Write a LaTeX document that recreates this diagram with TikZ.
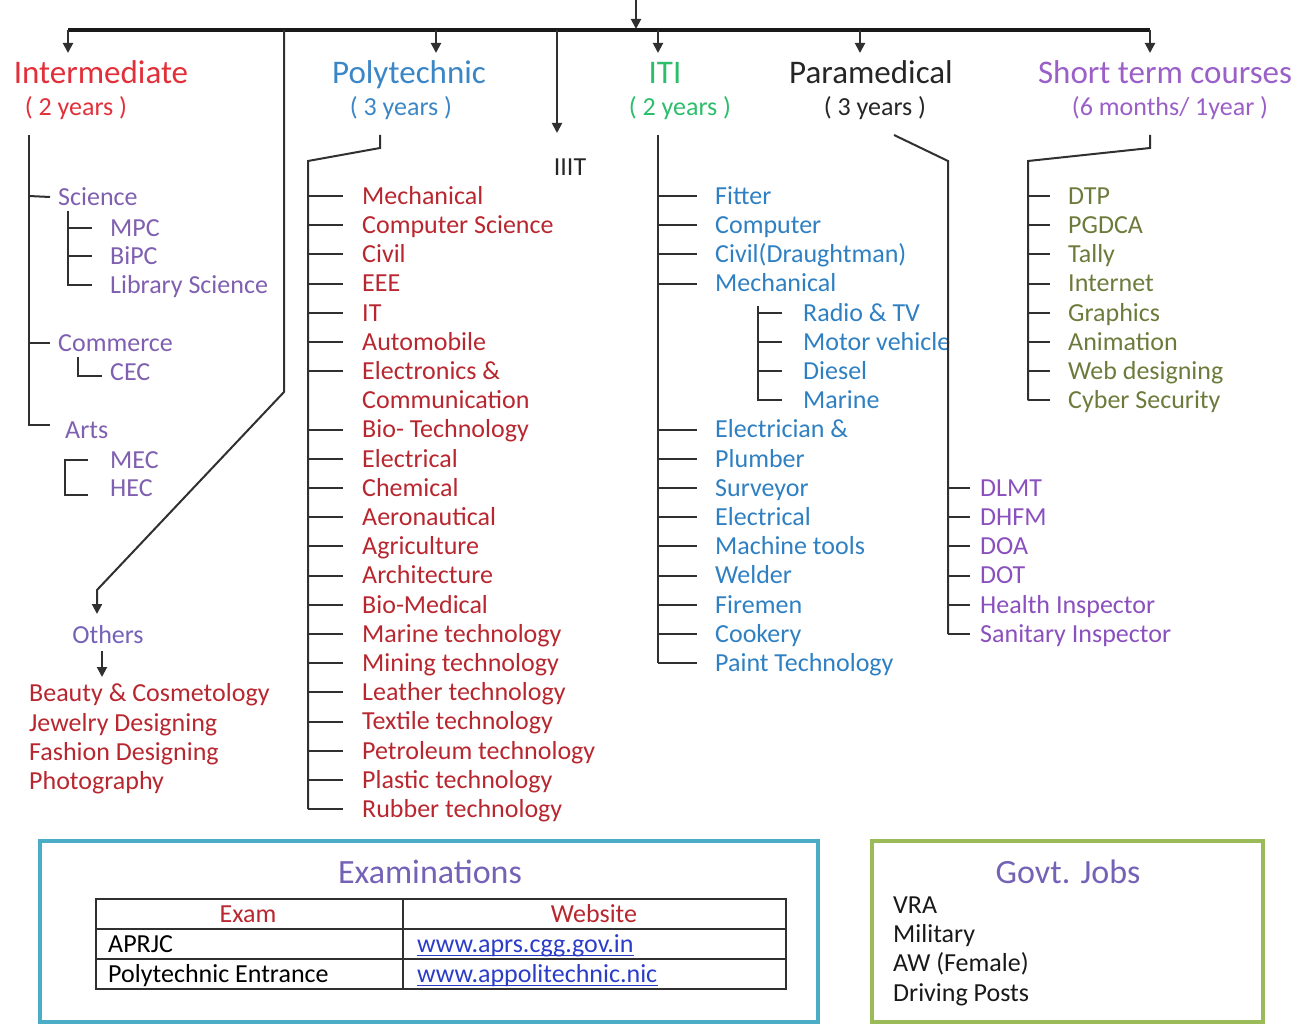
\documentclass[tikz,border=0pt]{standalone}
\usepackage{fontspec}
\setmainfont{Carlito}
\usetikzlibrary{arrows.meta,calc}
\definecolor{intred}{HTML}{E2303A}
\definecolor{dred}{HTML}{B8272F}
\definecolor{polyblue}{HTML}{3A86C6}
\definecolor{itigreen}{HTML}{2DBE6C}
\definecolor{itiblue}{HTML}{2F80C2}
\definecolor{subpurple}{HTML}{7F5FB0}
\definecolor{othpurple}{HTML}{7462B6}
\definecolor{parpurple}{HTML}{8A50BE}
\definecolor{stpurple}{HTML}{9B5FC8}
\definecolor{olive}{HTML}{6C7B3B}
\definecolor{teal}{HTML}{4AADC5}
\definecolor{jobgreen}{HTML}{9BBB59}
\definecolor{linkblue}{HTML}{2B3CC9}
\definecolor{linegray}{HTML}{303030}
\begin{document}
\begin{tikzpicture}[x=1pt,y=-1pt,
  ln/.style={draw=linegray, line width=2pt},
  bigln/.style={draw=black!90, line width=3.2pt},
  arr/.style={-{Triangle[length=10pt,width=10pt]}},
  itm/.style={anchor=west, inner sep=0pt, text height=20.8pt, text depth=4.2pt, font=\fontsize{26}{29}\selectfont},
  ttl/.style={inner sep=0pt, text height=26.4pt, text depth=6.6pt, font=\fontsize{33}{36}\selectfont},
  yrs/.style={inner sep=0pt, text height=20.8pt, text depth=4.2pt, font=\fontsize{26}{28}\selectfont},
  boxttl/.style={inner sep=0pt, text height=27.2pt, text depth=6.8pt, font=\fontsize{34}{36}\selectfont},
  uline/.style={draw=linkblue, line width=1.3pt},
]
\useasboundingbox (0,0) rectangle (1306,1027);

% ---------- top bar ----------
\coordinate (top) at (636,0);
\coordinate (hl) at (68,30);
\coordinate (hr) at (1150,30);
\coordinate (hmid) at (636,29);
\draw[bigln] (hl) -- (hr);
\draw[ln,arr] (top) -- (hmid);

% ---------- headers ----------
\node[ttl,text=intred] (inter) at (101,74) {Intermediate};
\node[yrs,text=intred] (interY) at (76,107) {( 2 years )};
\node[ttl,text=polyblue] (poly) at (409,74) {Polytechnic};
\node[yrs,text=polyblue] (polyY) at (401,107) {( 3 years )};
\node[ttl,text=itigreen] (iti) at (665,74) {ITI};
\node[yrs,text=itigreen] (itiY) at (680,107) {( 2 years )};
\node[ttl,text=black!85] (para) at (871,74) {Paramedical};
\node[yrs,text=black!85] (paraY) at (875,107) {( 3 years )};
\node[ttl,text=stpurple] (short) at (1165,74) {Short term courses};
\node[yrs,text=stpurple] (shortY) at (1170,107) {(6 months/ 1year )};

\coordinate (aI) at (68,53);
\coordinate (aP) at (436,53);
\coordinate (aT) at (658,53);
\coordinate (aM) at (860,53);
\coordinate (aS) at (1150,53);
\foreach \a/\b in {68/aI,436/aP,658/aT,860/aM,1150/aS}
  \draw[ln,arr] (\a,30) -- (\b);

% ---------- IIIT ----------
\node[itm,anchor=center,text=black!85] (iiit) at (570,167) {IIIT};
\coordinate (iiitTop) at (557,30);
\coordinate (iiitTip) at (557,133);
\draw[ln,arr] (iiitTop) -- (iiitTip);

% ---------- Others ----------
\coordinate (oTop) at (284,30);
\coordinate (oBend) at (284,392);
\coordinate (oDiag) at (97,590);
\coordinate (oTip) at (97,614);
\draw[ln,arr] (oTop) -- (oBend) -- (oDiag) -- (oTip);
\node[itm,anchor=center,text=othpurple] (others) at (108,635) {Others};
\coordinate (o2a) at (102,651);
\coordinate (o2b) at (102,677);
\draw[ln,arr] (o2a) -- (o2b);
\foreach \t/\y [count=\i] in {Beauty \& Cosmetology/693,Jewelry Designing/723,Fashion Designing/752,Photography/781}
  \node[itm,text=dred] (oth\i) at (29,\y) {\t};

% ---------- Intermediate tree ----------
\coordinate (iTop) at (29,135);
\coordinate (iBot) at (29,425);
\coordinate (iEnd) at (50,425);
\draw[ln] (iTop) -- (iBot) -- (iEnd);
\node[itm,text=subpurple] (sci) at (58,197) {Science};
\node[itm,text=subpurple] (com) at (58,343) {Commerce};
\node[itm,text=subpurple] (arts) at (65,430) {Arts};
\draw[ln] (29,196) -- ([xshift=-8pt]sci.west);
\draw[ln] (29,343) -- ([xshift=-8pt]com.west);
% science sub
\node[itm,text=subpurple] (mpc) at (110,228) {MPC};
\node[itm,text=subpurple] (bipc) at (110,256) {BiPC};
\node[itm,text=subpurple] (lib) at (110,285) {Library Science};
\coordinate (sTop) at (68,211);
\draw[ln] (sTop) -- (68,285) -- ([xshift=-18pt]lib.west);
\draw[ln] (68,228) -- ([xshift=-18pt]mpc.west);
\draw[ln] (68,256) -- ([xshift=-18pt]bipc.west);
% commerce sub
\node[itm,text=subpurple] (cec) at (110,372) {CEC};
\coordinate (cTop) at (78,357);
\coordinate (cEnd) at (102,376);
\draw[ln] (cTop) -- (78,376) -- (cEnd);
% arts sub
\node[itm,text=subpurple] (mec) at (110,460) {MEC};
\node[itm,text=subpurple] (hec) at (110,488) {HEC};
\coordinate (aTop) at (88,460);
\coordinate (aBot) at (88,495);
\draw[ln] (aTop) -- (65,460) -- (65,495) -- (aBot);

% ---------- Polytechnic tree ----------
\coordinate (pA) at (380,135);
\coordinate (pB) at (380,148);
\coordinate (pC) at (308,161);
\coordinate (pD) at (308,809);
\draw[ln] (pA) -- (pB) -- (pC) -- (pD);
\foreach \t [count=\i] in {Mechanical,Computer Science,Civil,EEE,IT,Automobile,Electronics \&,Communication,Bio- Technology,Electrical,Chemical,Aeronautical,Agriculture,Architecture,Bio-Medical,Marine technology,Mining technology,Leather technology,Textile technology,Petroleum technology,Plastic technology,Rubber technology}{
  \pgfmathsetmacro\yy{196+29.2*(\i-1)}
  \node[itm,text=dred] (p\i) at (362,\yy) {\t};
  \ifnum\i=8\else \draw[ln] (308,\yy) -- ([xshift=-19pt]p\i.west);\fi
}

% ---------- ITI tree ----------
\coordinate (tA) at (658,135);
\coordinate (tB) at (658,663);
\draw[ln] (tA) -- (tB);
\foreach \t/\r in {Fitter/1,Computer/2,Civil(Draughtman)/3,Mechanical/4,Electrician \&/9,Plumber/10,Surveyor/11,Electrical/12,Machine tools/13,Welder/14,Firemen/15,Cookery/16,Paint Technology/17}{
  \pgfmathsetmacro\yy{196+29.2*(\r-1)}
  \node[itm,text=itiblue] (t\r) at (715,\yy) {\t};
  \draw[ln] (658,\yy) -- ([xshift=-18pt]t\r.west);
}
\coordinate (tsA) at (758,306);
\coordinate (tsB) at (758,400.6);
\draw[ln] (tsA) -- (tsB);
\foreach \t/\r in {Radio \& TV/5,Motor vehicle/6,Diesel/7,Marine/8}{
  \pgfmathsetmacro\yy{196+29.2*(\r-1)}
  \node[itm,text=itiblue] (t\r) at (803,\yy) {\t};
  \draw[ln] (758,\yy) -- ([xshift=-21pt]t\r.west);
}

% ---------- Paramedical tree ----------
\coordinate (mA) at (894,135);
\coordinate (mB) at (948,161);
\coordinate (mC) at (948,634);
\draw[ln] (mA) -- (mB) -- (mC);
\foreach \t/\r in {DLMT/11,DHFM/12,DOA/13,DOT/14,Health Inspector/15,Sanitary Inspector/16}{
  \pgfmathsetmacro\yy{196+29.2*(\r-1)}
  \node[itm,text=parpurple] (m\r) at (980,\yy) {\t};
  \draw[ln] (948,\yy) -- ([xshift=-10pt]m\r.west);
}

% ---------- Short term tree ----------
\coordinate (sA) at (1150,135);
\coordinate (sB) at (1150,148);
\coordinate (sC) at (1028,161);
\coordinate (sD) at (1028,400.4);
\draw[ln] (sA) -- (sB) -- (sC) -- (sD);
\foreach \t [count=\i] in {DTP,PGDCA,Tally,Internet,Graphics,Animation,Web designing,Cyber Security}{
  \pgfmathsetmacro\yy{196+29.2*(\i-1)}
  \node[itm,text=olive] (st\i) at (1068,\yy) {\t};
  \draw[ln] (1028,\yy) -- ([xshift=-18pt]st\i.west);
}

% ---------- Examinations box ----------
\draw[teal,line width=4pt] (40,841) rectangle (818,1022);
\node[boxttl,text=othpurple] (exams) at (430,873) {Examinations};
\draw[linegray,line width=1.4pt] (96,899) rectangle (786,989);
\draw[linegray,line width=1.4pt] (96,929) -- (786,929);
\draw[linegray,line width=1.4pt] (96,959) -- (786,959);
\draw[linegray,line width=1.4pt] (403,899) -- (403,989);
\node[itm,anchor=center,text=dred] (hExam) at (248,914) {Exam};
\node[itm,anchor=center,text=dred] (hWeb) at (594,914) {Website};
\node[itm,text=black] (e1) at (108,944) {APRJC};
\node[itm,text=black] (e2) at (108,974) {Polytechnic Entrance};
\node[itm,text=linkblue] (w1) at (417,944) {www.aprs.cgg.gov.in};
\node[itm,text=linkblue] (w2) at (417,974) {www.appolitechnic.nic};
\draw[uline] ([yshift=-3pt]w1.base west) -- ([yshift=-3pt]w1.base east);
\draw[uline] ([yshift=-3pt]w2.base west) -- ([yshift=-3pt]w2.base east);

% ---------- Govt. Jobs box ----------
\draw[jobgreen,line width=4pt] (872,841) rectangle (1263,1022);
\node[boxttl,text=othpurple] (jobs) at (1068,873) {Govt. Jobs};
\foreach \t/\y [count=\i] in {VRA/905,Military/934,AW (Female)/963,Driving Posts/993}
  \node[itm,text=black!90] (j\i) at (893,\y) {\t};
\end{tikzpicture}
\end{document}
